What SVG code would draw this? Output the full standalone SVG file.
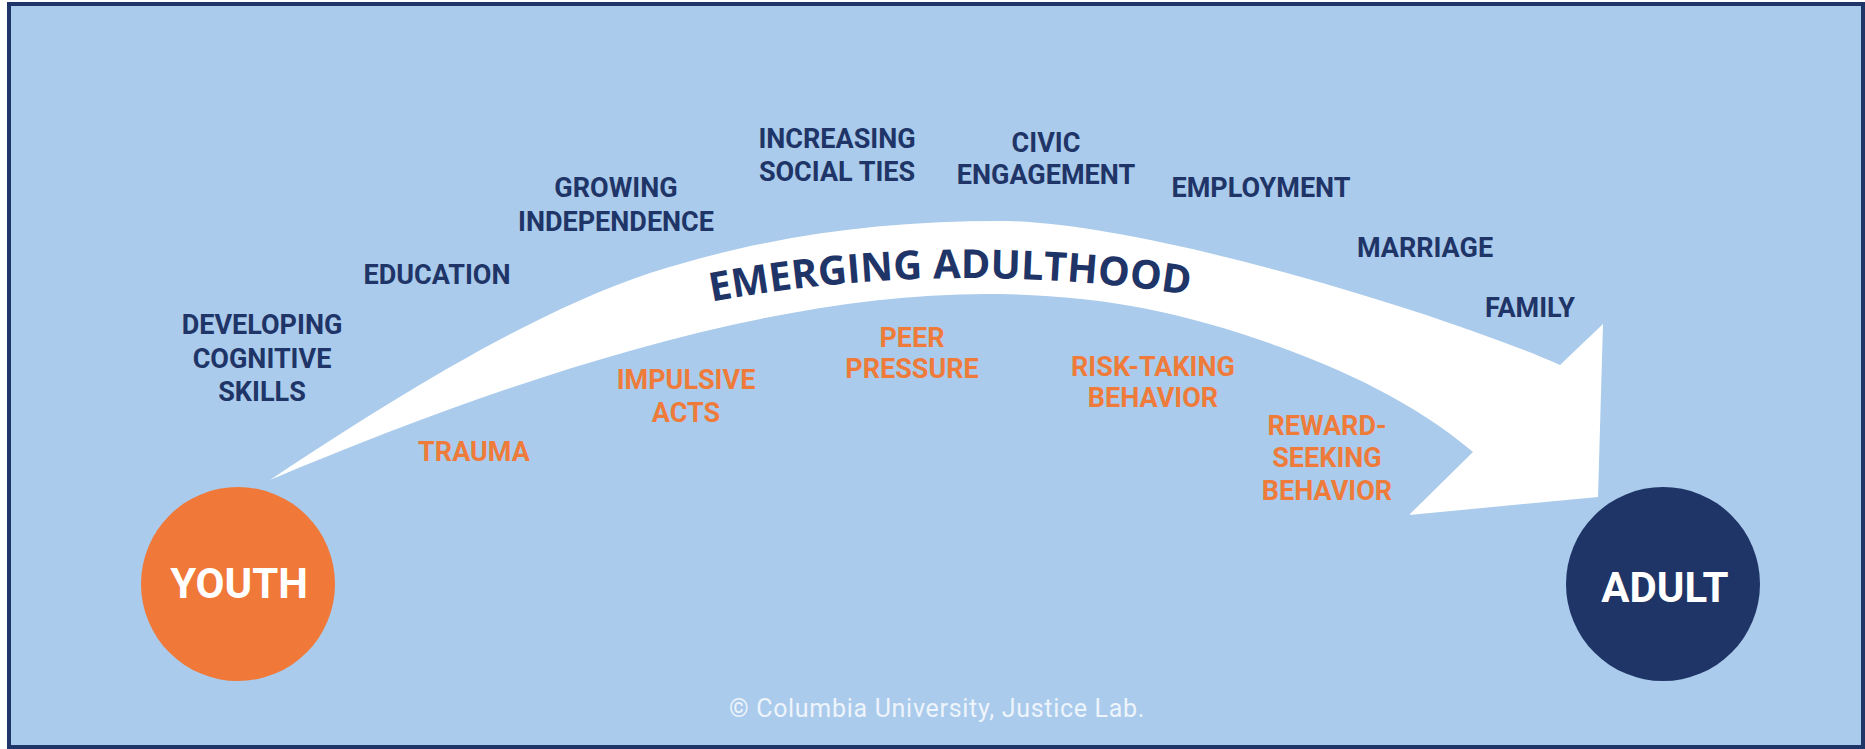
<svg xmlns="http://www.w3.org/2000/svg" xmlns:xlink="http://www.w3.org/1999/xlink" width="1865" height="749" viewBox="0 0 1865 749">
<style>
.lbl{font-family:Roboto,"Liberation Sans",sans-serif;font-weight:700;font-size:27px;text-anchor:middle}
.navy{fill:#1F3467}
.orange{fill:#EF7B3B}
.big{font-family:Roboto,"Liberation Sans",sans-serif;font-weight:700;font-size:42px;fill:#FFFFFF;text-anchor:middle}
</style>
<defs>
<path id="arcText" d="M 711 302 Q 945 258 1190 295"/>
</defs>
<rect x="0" y="0" width="1865" height="749" fill="#FFFFFF"/>
<rect x="9" y="4" width="1854" height="743" fill="#AACBEB" stroke="#1F3467" stroke-width="4"/>
<g id="connectors">
<path id="arrow" fill="#FFFFFF" d="M 270 480 C 390 400 530 313 650 273 C 770 235 880 221 1000 221 C 1140 221 1440 312 1560 365 L 1603 324 L 1598 497 L 1409 515 L 1473 452 C 1413 401 1340 369 1280 347 C 1180 310.5 1100 296 1000 294 C 760 290 480 392 270 480 Z"/>
<text font-family="'Open Sans',Roboto,sans-serif" font-weight="700" font-size="40" fill="#1F3467"><textPath xlink:href="#arcText" href="#arcText" startOffset="50%" text-anchor="middle">EMERGING ADULTHOOD</textPath></text>
</g>
<g id="youth">
<circle cx="238" cy="584" r="97" fill="#F07838"/>
<text class="big" x="239" y="598">YOUTH</text>
</g>
<g id="adult">
<circle cx="1663" cy="584" r="97" fill="#1F3467"/>
<text class="big" x="1665" y="602">ADULT</text>
</g>
<g id="developing"><text class="lbl navy"><tspan x="262" y="334">DEVELOPING</tspan><tspan x="262" y="368">COGNITIVE</tspan><tspan x="262" y="401">SKILLS</tspan></text></g>
<g id="education"><text class="lbl navy" x="437" y="284">EDUCATION</text></g>
<g id="growing"><text class="lbl navy"><tspan x="616" y="197">GROWING</tspan><tspan x="616" y="231">INDEPENDENCE</tspan></text></g>
<g id="social"><text class="lbl navy"><tspan x="837" y="148">INCREASING</tspan><tspan x="837" y="181">SOCIAL TIES</tspan></text></g>
<g id="civic"><text class="lbl navy"><tspan x="1046" y="152">CIVIC</tspan><tspan x="1046" y="184">ENGAGEMENT</tspan></text></g>
<g id="employment"><text class="lbl navy" x="1261" y="197">EMPLOYMENT</text></g>
<g id="marriage"><text class="lbl navy" x="1425" y="257">MARRIAGE</text></g>
<g id="family"><text class="lbl navy" x="1530" y="317">FAMILY</text></g>
<g id="trauma"><text class="lbl orange" x="474" y="461">TRAUMA</text></g>
<g id="impulsive"><text class="lbl orange"><tspan x="686" y="389">IMPULSIVE</tspan><tspan x="686" y="422">ACTS</tspan></text></g>
<g id="peer"><text class="lbl orange"><tspan x="912" y="347">PEER</tspan><tspan x="912" y="378">PRESSURE</tspan></text></g>
<g id="risk"><text class="lbl orange"><tspan x="1153" y="376">RISK-TAKING</tspan><tspan x="1153" y="407">BEHAVIOR</tspan></text></g>
<g id="reward"><text class="lbl orange"><tspan x="1327" y="435">REWARD-</tspan><tspan x="1327" y="467">SEEKING</tspan><tspan x="1327" y="500">BEHAVIOR</tspan></text></g>
<text x="937" y="717" font-family="Roboto,'Liberation Sans',sans-serif" font-size="25" fill="#EEF4FB" text-anchor="middle" letter-spacing="0.7">© Columbia University, Justice Lab.</text>
</svg>
